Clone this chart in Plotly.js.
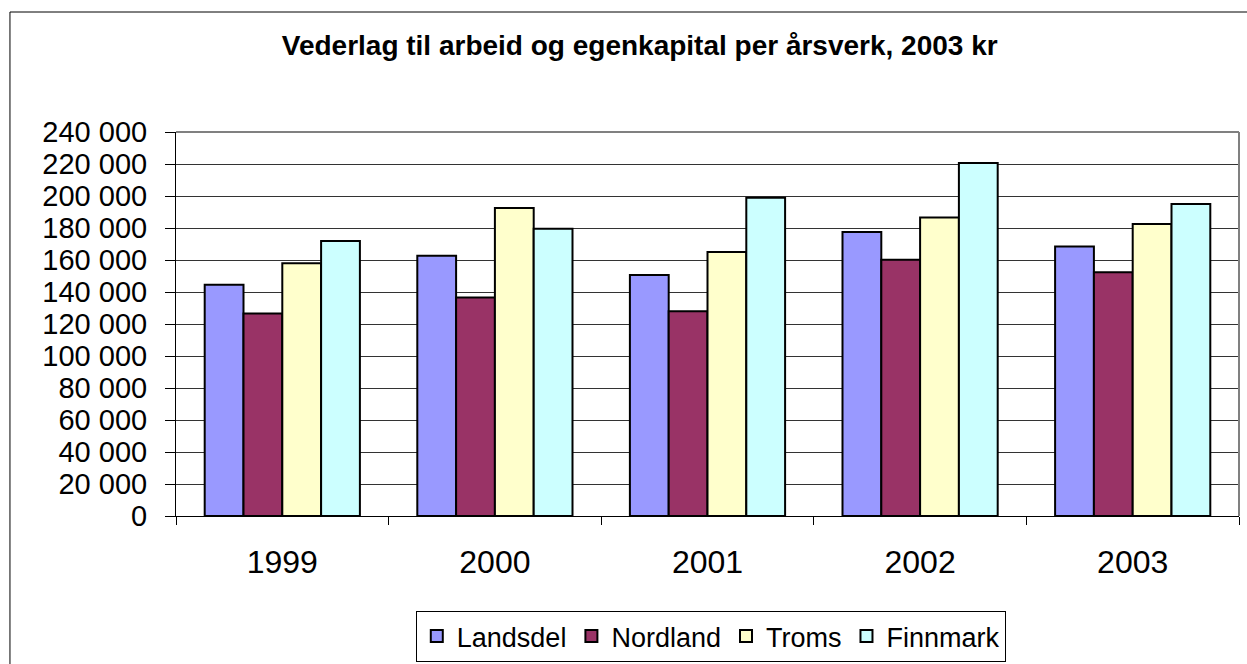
<!DOCTYPE html>
<html>
<head>
<meta charset="utf-8">
<script src="https://cdn.plot.ly/plotly-3.0.1.min.js"></script>
<style>
  html, body { margin: 0; padding: 0; background: #fff; }
  #chart { width: 1247px; height: 664px; }
</style>
</head>
<body>
<div id="chart"></div>
<script>
const years = ["1999", "2000", "2001", "2002", "2003"];
const seriesNames = ["Landsdel", "Nordland", "Troms", "Finnmark"];
const landsdel = [144600, 162700, 150600, 177500, 168500];
const nordland = [126600, 136600, 127900, 160200, 152300];
const troms    = [157900, 192500, 165000, 186600, 182500];
const finnmark = [171900, 179600, 198900, 220600, 195000];
const colors = ["#9999FF", "#993366", "#FFFFCC", "#CCFFFF"];
const yTickVals = [0, 20000, 40000, 60000, 80000, 100000, 120000, 140000, 160000, 180000, 200000, 220000, 240000];

const values = [landsdel, nordland, troms, finnmark];
const traces = seriesNames.map((name, i) => ({
  type: "bar",
  name: name,
  x: years,
  y: values[i],
  marker: { color: colors[i], line: { color: "#000", width: 2 } },
  hoverinfo: "x+y+name"
}));

const font = "Arial, 'Liberation Sans', sans-serif";

const layout = {
  width: 1247,
  height: 664,
  margin: { l: 176, r: 8, t: 132, b: 148 },
  paper_bgcolor: "#fff",
  plot_bgcolor: "#fff",
  separators: ", ",
  font: { family: font, color: "#000" },
  title: {
    text: "<b>Vederlag til arbeid og egenkapital per årsverk, 2003 kr</b>",
    font: { family: font, size: 28, color: "#000" },
    x: 0.513, xref: "container", xanchor: "center",
    y: 0.932, yref: "container", yanchor: "middle"
  },
  barmode: "group",
  bargap: 0.27,
  bargroupgap: 0,
  xaxis: {
    type: "category",
    showline: true, linecolor: "#000", linewidth: 1,
    ticks: "outside", tickson: "boundaries", ticklen: 8, tickcolor: "#000",
    ticklabelstandoff: 18,
    tickfont: { family: font, size: 32, color: "#000" },
    showgrid: false, zeroline: false, automargin: false
  },
  yaxis: {
    range: [0, 240000],
    tickvals: yTickVals,
    tickformat: ",d",
    showline: true, linecolor: "#000", linewidth: 1,
    ticks: "outside", ticklen: 10, tickcolor: "#000",
    ticklabelstandoff: 12,
    tickfont: { family: font, size: 29, color: "#000" },
    showgrid: true, gridcolor: "#333", gridwidth: 1,
    zeroline: false, automargin: false
  },
  legend: {
    orientation: "h",
    xref: "container", x: 0.570, xanchor: "center",
    yref: "container", y: 0.0798, yanchor: "top",
    bordercolor: "#000", borderwidth: 1,
    font: { family: font, size: 27, color: "#000" },
    traceorder: "normal",
    tracegroupgap: 0
  },
  showlegend: true,
  shapes: [
    { type: "line", xref: "paper", yref: "paper", x0: 0, x1: 1, y0: 1, y1: 1,
      line: { color: "#808080", width: 2 }, layer: "above" },
    { type: "line", xref: "paper", yref: "paper", x0: 1, x1: 1, y0: 0, y1: 1,
      line: { color: "#808080", width: 2 }, layer: "above" },
    { type: "rect", xref: "paper", yref: "paper", x0: -0.1562, x1: 1.02, y0: -0.5, y1: 1.3125,
      line: { color: "#000", width: 1 }, fillcolor: "rgba(0,0,0,0)", layer: "below" }
  ]
};

Plotly.newPlot("chart", traces, layout, { displayModeBar: false, staticPlot: true });
</script>
</body>
</html>
